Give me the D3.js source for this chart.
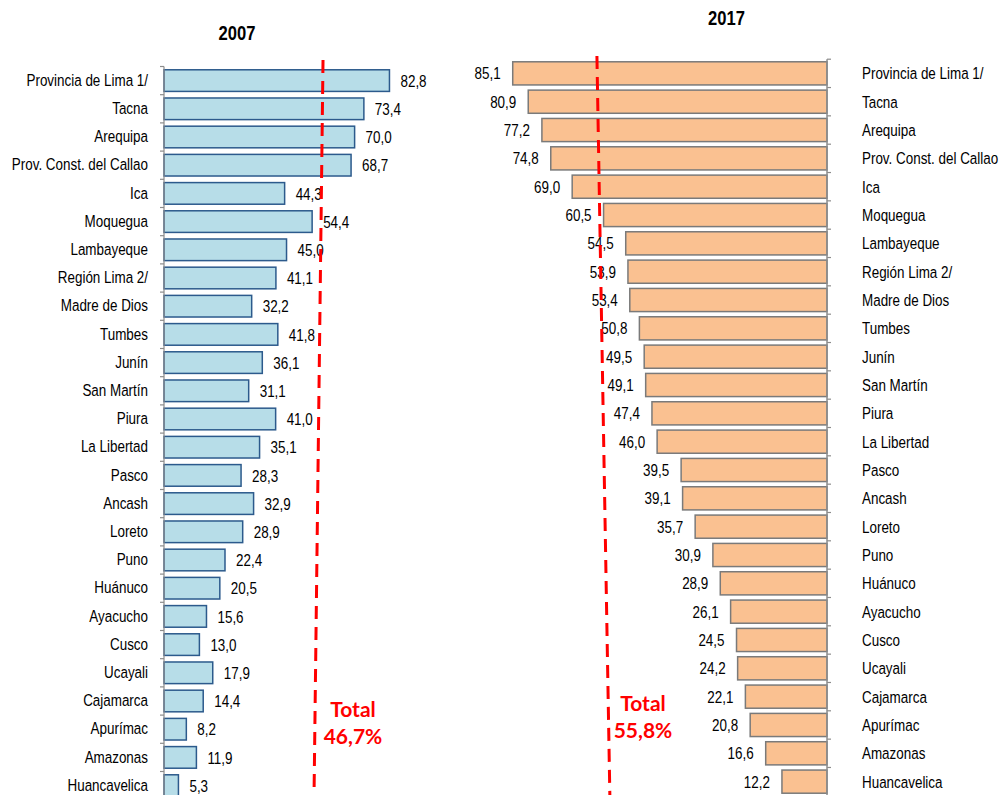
<!DOCTYPE html>
<html><head><meta charset="utf-8">
<script src="https://cdn.jsdelivr.net/npm/d3@7"></script>
<style>
body{margin:0;background:#fff;}
svg{display:block;}
.lbl{font-family:"Liberation Sans",Arial,sans-serif;font-size:17px;fill:#000;}
.ttl{font-family:"Liberation Sans",Arial,sans-serif;font-size:21px;font-weight:bold;fill:#000;}
.tot{font-family:Lato,"Open Sans",sans-serif;font-size:21px;font-weight:bold;fill:#ff0000;}
</style></head>
<body><svg id="c" width="1003" height="795"></svg>
<script>
const categories = ["Provincia de Lima 1/","Tacna","Arequipa","Prov. Const. del Callao","Ica","Moquegua","Lambayeque","Región Lima 2/","Madre de Dios","Tumbes","Junín","San Martín","Piura","La Libertad","Pasco","Ancash","Loreto","Puno","Huánuco","Ayacucho","Cusco","Ucayali","Cajamarca","Apurímac","Amazonas","Huancavelica"];
const values2007 = [82.8,73.4,70.0,68.7,44.3,54.4,45.0,41.1,32.2,41.8,36.1,31.1,41.0,35.1,28.3,32.9,28.9,22.4,20.5,15.6,13.0,17.9,14.4,8.2,11.9,5.3];
const values2017 = [85.1,80.9,77.2,74.8,69.0,60.5,54.5,53.9,53.4,50.8,49.5,49.1,47.4,46.0,39.5,39.1,35.7,30.9,28.9,26.1,24.5,24.2,22.1,20.8,16.6,12.2];
const titles = ["2007","2017"];
const totalLabels = [["Total","46,7%"],["Total","55,8%"]];
// reference line endpoints as drawn (in each panel's value units: top, bottom)
const refLine2007 = [58.4, 55.1];
const refLine2017 = [62.3, 58.8];

const NARROW = 0.79;
const fmt = v => d3.format(".1f")(v).replace(".", ",");
const svg = d3.select("#c");
const narrowT = (x, y) => `translate(${x},${y}) scale(${NARROW},1)`;

// ---------- 2007 panel ----------
const xL = d3.scaleLinear().domain([0,100]).range([164, 164+272.3]);
const yL = d3.scaleBand().domain(categories).range([66.5, 799.7]).paddingInner(0.18).paddingOuter(0.09);
const gL = svg.append("g");
gL.selectAll("rect").data(categories).join("rect")
  .attr("x", xL(0)).attr("y", d => yL(d)+0.75)
  .attr("width", (d,i) => xL(values2007[i]) - xL(0))
  .attr("height", yL.bandwidth()-1.5)
  .attr("fill","#b7dde8").attr("stroke","#2c5a8c").attr("stroke-width",1.5);
gL.append("line").attr("x1",xL(0)).attr("x2",xL(0)).attr("y1",yL.range()[0]).attr("y2",yL.range()[1]).attr("stroke","#8c8c8c").attr("stroke-width",1.2);
const bL = d3.range(categories.length).map(i => yL.range()[0] + i*yL.step());
gL.selectAll("line.tk").data(bL).join("line").attr("class","tk")
  .attr("x1",xL(0)-4).attr("x2",xL(0)).attr("y1",d=>d).attr("y2",d=>d).attr("stroke","#8c8c8c").attr("stroke-width",1.2);
gL.selectAll("text.cat").data(categories).join("text").attr("class","lbl cat")
  .attr("transform", d => narrowT(xL(0)-16, yL(d)+yL.bandwidth()/2-1)).attr("dy","0.36em")
  .attr("text-anchor","end").text(d=>d);
gL.selectAll("text.val").data(values2007).join("text").attr("class","lbl val")
  .attr("transform", (d,i) => narrowT(xL(d)+11, yL(categories[i])+yL.bandwidth()/2)).attr("dy","0.36em")
  .text(d => fmt(d));
gL.append("line").attr("x1",xL(refLine2007[0])).attr("y1",60).attr("x2",xL(refLine2007[1])).attr("y2",795)
  .attr("stroke","#ff0000").attr("stroke-width",3).attr("stroke-dasharray","13,8");
gL.append("text").attr("class","ttl").attr("transform",narrowT(237,40)).attr("text-anchor","middle").text(titles[0]);
gL.append("text").attr("class","tot").attr("x",353).attr("y",717).attr("text-anchor","middle").text(totalLabels[0][0]);
gL.append("text").attr("class","tot").attr("x",353).attr("y",744).attr("text-anchor","middle").text(totalLabels[0][1]);

// ---------- 2017 panel ----------
const xR = d3.scaleLinear().domain([0,100]).range([827, 827-369.3]);
const yR = d3.scaleBand().domain(categories).range([59.2, 795.8]).paddingInner(0.13).paddingOuter(0.065);
const gR = svg.append("g");
gR.selectAll("rect").data(categories).join("rect")
  .attr("x", (d,i) => xR(values2017[i])).attr("y", d => yR(d)+0.75)
  .attr("width", (d,i) => xR(0) - xR(values2017[i]))
  .attr("height", yR.bandwidth()-1.5)
  .attr("fill","#fac191").attr("stroke","#7a7a7a").attr("stroke-width",1.5);
gR.append("line").attr("x1",xR(0)).attr("x2",xR(0)).attr("y1",yR.range()[0]).attr("y2",yR.range()[1]).attr("stroke","#8c8c8c").attr("stroke-width",1.5);
const bR = d3.range(categories.length).map(i => yR.range()[0] + i*yR.step());
gR.selectAll("line.tk").data(bR).join("line").attr("class","tk")
  .attr("x1",xR(0)).attr("x2",xR(0)+4).attr("y1",d=>d).attr("y2",d=>d).attr("stroke","#8c8c8c").attr("stroke-width",1.2);
gR.selectAll("text.cat").data(categories).join("text").attr("class","lbl cat")
  .attr("transform", d => narrowT(xR(0)+35, yR(d)+yR.bandwidth()/2)).attr("dy","0.36em")
  .text(d=>d);
gR.selectAll("text.val").data(values2017).join("text").attr("class","lbl val")
  .attr("transform", (d,i) => narrowT(xR(d)-12, yR(categories[i])+yR.bandwidth()/2)).attr("dy","0.36em")
  .attr("text-anchor","end").text(d => fmt(d));
gR.append("line").attr("x1",xR(refLine2017[0])).attr("y1",56).attr("x2",xR(refLine2017[1])).attr("y2",795)
  .attr("stroke","#ff0000").attr("stroke-width",3).attr("stroke-dasharray","13,8");
gR.append("text").attr("class","ttl").attr("transform",narrowT(726.5,25)).attr("text-anchor","middle").text(titles[1]);
gR.append("text").attr("class","tot").attr("x",643).attr("y",711).attr("text-anchor","middle").text(totalLabels[1][0]);
gR.append("text").attr("class","tot").attr("x",643).attr("y",738).attr("text-anchor","middle").text(totalLabels[1][1]);
</script></body></html>
